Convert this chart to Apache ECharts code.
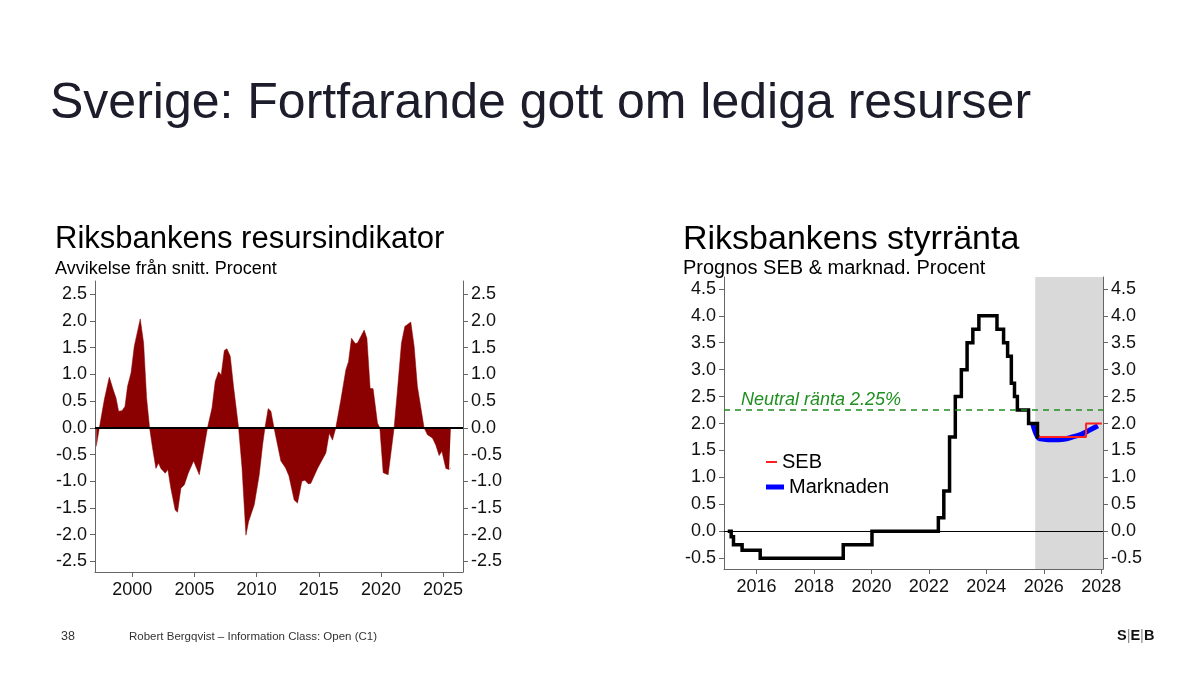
<!DOCTYPE html>
<html>
<head>
<meta charset="utf-8">
<title>Sverige: Fortfarande gott om lediga resurser</title>
<script src="https://cdn.jsdelivr.net/npm/echarts@6.0.0/dist/echarts.min.js"></script>
<style>
html,body{margin:0;padding:0;background:#fff;}
#main{width:1200px;height:675px;}
</style>
</head>
<body>
<div id="main"></div>
<script>
// Resursindikator - avvikelse från snitt, procent
var resYears = [1997.1, 1997.35, 1997.75, 1998.15, 1998.47, 1998.69, 1998.9, 1999.17, 1999.41, 1999.62, 1999.9,
	2000.16, 2000.64, 2000.91, 2001.15, 2001.39, 2001.63, 2001.9, 2002.11, 2002.3, 2002.65, 2002.86,
	2003.1, 2003.45, 2003.64, 2003.91, 2004.18, 2004.5, 2004.93, 2005.39, 2005.65, 2006.05, 2006.41,
	2006.67, 2006.94, 2007.15, 2007.4, 2007.61, 2007.88, 2008.14, 2008.55, 2008.82, 2009.14, 2009.35,
	2009.81, 2010.21, 2010.48, 2010.67, 2010.93, 2011.15, 2011.4, 2011.95, 2012.33, 2012.6, 2013.02, 2013.29,
	2013.64, 2013.88, 2014.17, 2014.36, 2014.9, 2015.57, 2015.84, 2016.1, 2016.37, 2016.78, 2017.18,
	2017.39, 2017.63, 2017.93, 2018.11, 2018.65, 2018.87, 2019.13, 2019.37, 2019.72, 2019.91, 2020.18,
	2020.58, 2021.06, 2021.33, 2021.65, 2021.92, 2022.4, 2022.67, 2022.93, 2023.47, 2023.74, 2024.14,
	2024.41, 2024.68, 2024.9, 2025.22, 2025.48, 2025.62];
var resValues = [-0.35, 0.0, 0.53, 0.95, 0.71, 0.56, 0.31, 0.32, 0.40, 0.78, 1.03,
	1.53, 2.04, 1.59, 0.56, 0.0, -0.38, -0.76, -0.66, -0.76, -0.85, -0.78,
	-1.13, -1.54, -1.58, -1.13, -1.07, -0.85, -0.62, -0.88, -0.54, 0.0, 0.37,
	0.87, 1.05, 0.99, 1.45, 1.48, 1.34, 0.78, 0.0, -0.73, -2.01, -1.76,
	-1.44, -0.88, -0.32, 0.0, 0.36, 0.31, 0.0, -0.62, -0.75, -0.9, -1.35, -1.41,
	-1.0, -0.98, -1.05, -1.04, -0.76, -0.47, -0.1, -0.23, 0.0, 0.53, 1.09,
	1.24, 1.68, 1.58, 1.59, 1.83, 1.68, 0.74, 0.73, 0.09, 0.0, -0.84,
	-0.88, 0.0, 0.71, 1.59, 1.9, 1.98, 1.53, 0.78, 0.0, -0.13, -0.19,
	-0.32, -0.52, -0.44, -0.76, -0.78, -0.75];

// Styrränta - datum för beslut och nivå
var rateDates = [2015.0, 2015.12, 2015.2, 2015.5, 2016.13, 2019.02, 2020.02, 2022.33, 2022.52, 2022.72,
	2022.92, 2023.13, 2023.33, 2023.53, 2023.74, 2024.37, 2024.6, 2024.74, 2024.87, 2024.98,
	2025.08, 2025.47, 2025.78, 2025.82];
var rateValues = [0, -0.10, -0.25, -0.35, -0.50, -0.25, 0, 0.25, 0.75, 1.75,
	2.5, 3.0, 3.5, 3.75, 4.0, 3.75, 3.5, 3.25, 2.75, 2.5,
	2.25, 2.0, 1.75, 1.75];

// Prognos SEB
var sebDates = [2025.8, 2027.47, 2028.02];
var sebValues = [1.75, 2.0, 2.0];

// Marknadens prissättning
var marketDates = [2025.62, 2025.72, 2025.82, 2026.0, 2026.3, 2026.7, 2027.0, 2027.3, 2027.6, 2027.88];
var marketValues = [1.98, 1.82, 1.73, 1.71, 1.70, 1.71, 1.75, 1.80, 1.88, 1.96];

// Tick-etiketter
var resYearTicks = [2000, 2005, 2010, 2015, 2020, 2025];
var resValueTicks = [-2.5, -2.0, -1.5, -1.0, -0.5, 0.0, 0.5, 1.0, 1.5, 2.0, 2.5];
var rateYearTicks = [2016, 2018, 2020, 2022, 2024, 2026, 2028];
var rateValueTicks = [-0.5, 0.0, 0.5, 1.0, 1.5, 2.0, 2.5, 3.0, 3.5, 4.0, 4.5];

var neutralRate = 2.25;
var forecastStart = 2025.7;

var FONT = '"Liberation Sans", Arial, sans-serif';
var AXIS_COLOR = '#666';

function pairs(xs, ys) {
	return xs.map(function (x, i) { return [x, ys[i]]; });
}

function yearFmt(v) { return String(Math.round(v)); }
function pctFmt(v) { return v.toFixed(1); }

// gemensam axel-inställning
function axis(opt) {
	return {
		type: 'value',
		gridIndex: opt.grid,
		min: opt.min,
		max: opt.max,
		position: opt.position,
		splitLine: { show: false },
		axisLine: { show: true, onZero: false, lineStyle: { color: AXIS_COLOR, width: 1 } },
		axisTick: { show: true, length: 5, lineStyle: { color: AXIS_COLOR }, customValues: opt.ticks },
		axisLabel: {
			customValues: opt.ticks,
			color: '#111',
			fontSize: 18,
			fontFamily: FONT,
			margin: opt.margin || 8,
			formatter: opt.fmt
		}
	};
}

function titleText(text, left, top, size, color) {
	return { text: text, left: left, top: top, padding: 0,
		textStyle: { fontSize: size, fontWeight: 'normal', color: color || '#000', fontFamily: FONT, lineHeight: size } };
}

var chart = echarts.init(document.getElementById('main'), null, { renderer: 'canvas' });

var option = {
	backgroundColor: '#fff',
	animation: false,
	title: [
		titleText('Sverige: Fortfarande gott om lediga resurser', 50, 79, 50, '#1c1c2b'),
		titleText('Riksbankens resursindikator', 55, 224, 31),
		titleText('Avvikelse från snitt. Procent', 55, 260, 18),
		titleText('Riksbankens styrränta', 683, 223, 34),
		titleText('Prognos SEB & marknad. Procent', 683, 258, 20)
	],
	legend: [
		{ data: ['SEB'], left: 766, top: 452, padding: 0, icon: 'rect', itemWidth: 11, itemHeight: 2,
			selectedMode: false, textStyle: { fontSize: 20, fontFamily: FONT, color: '#000', lineHeight: 20 } },
		{ data: ['Marknaden'], left: 766, top: 477, padding: 0, icon: 'rect', itemWidth: 18, itemHeight: 5,
			selectedMode: false, textStyle: { fontSize: 20, fontFamily: FONT, color: '#000', lineHeight: 20 } }
	],
	grid: [
		{ left: 95, top: 281, width: 368, height: 291 },
		{ left: 724, top: 277, width: 379, height: 292 }
	],
	xAxis: [
		axis({ grid: 0, min: 1997.0, max: 2026.6, position: 'bottom', ticks: resYearTicks, margin: 9, fmt: yearFmt }),
		axis({ grid: 1, min: 2014.87, max: 2028.06, position: 'bottom', ticks: rateYearTicks, margin: 9, fmt: yearFmt })
	],
	yAxis: [
		axis({ grid: 0, min: -2.7, max: 2.75, position: 'left', ticks: resValueTicks, fmt: pctFmt }),
		axis({ grid: 0, min: -2.7, max: 2.75, position: 'right', ticks: resValueTicks, fmt: pctFmt }),
		axis({ grid: 1, min: -0.7, max: 4.72, position: 'left', ticks: rateValueTicks, fmt: pctFmt }),
		axis({ grid: 1, min: -0.7, max: 4.72, position: 'right', ticks: rateValueTicks, fmt: pctFmt })
	],
	series: [
		{
			name: 'Resursindikator',
			type: 'line',
			xAxisIndex: 0,
			yAxisIndex: 0,
			data: pairs(resYears, resValues),
			showSymbol: false,
			lineStyle: { width: 0.5, color: '#8b0000' },
			areaStyle: { color: '#8b0000', opacity: 1, origin: 0 },
			z: 2,
			markLine: {
				silent: true,
				symbol: ['none', 'none'],
				label: { show: false },
				lineStyle: { color: '#000', width: 2, type: 'solid' },
				data: [{ yAxis: 0 }]
			}
		},
		{
			name: 'Marknaden',
			type: 'line',
			xAxisIndex: 1,
			yAxisIndex: 2,
			data: pairs(marketDates, marketValues),
			smooth: 0.4,
			showSymbol: false,
			color: '#0000ff',
			lineStyle: { width: 5, color: '#0000ff' },
			z: 2,
			markArea: {
				silent: true,
				itemStyle: { color: '#d9d9d9' },
				data: [[{ xAxis: forecastStart }, { xAxis: 2028.06 }]]
			}
		},
		{
			name: 'SEB',
			type: 'line',
			xAxisIndex: 1,
			yAxisIndex: 2,
			data: pairs(sebDates, sebValues),
			step: 'end',
			showSymbol: false,
			color: '#ff2020',
			lineStyle: { width: 2, color: '#ff2020' },
			z: 3
		},
		{
			name: 'Styrränta',
			type: 'line',
			xAxisIndex: 1,
			yAxisIndex: 2,
			data: pairs(rateDates, rateValues),
			step: 'end',
			showSymbol: false,
			lineStyle: { width: 3.5, color: '#000', join: 'miter' },
			z: 4,
			markLine: {
				silent: true,
				symbol: ['none', 'none'],
				label: { show: false },
				data: [
					{ yAxis: 0, lineStyle: { color: '#000', width: 1, type: 'solid' } },
					{ yAxis: neutralRate, lineStyle: { color: '#1f8f1f', width: 1.5, type: [6, 5] } }
				]
			}
		}
	],
	graphic: [
		{ type: 'text', x: 741, y: 400, silent: true,
			style: { text: 'Neutral ränta 2.25%', fill: '#1f8f1f', fontSize: 18, fontStyle: 'italic',
				fontFamily: FONT, verticalAlign: 'middle' } },
		{ type: 'text', x: 61, y: 637, silent: true,
			style: { text: '38', fill: '#333', fontSize: 12.5, fontFamily: FONT, verticalAlign: 'middle' } },
		{ type: 'text', x: 129, y: 637, silent: true,
			style: { text: 'Robert Bergqvist – Information Class: Open (C1)', fill: '#333', fontSize: 11.5,
				fontFamily: FONT, verticalAlign: 'middle' } },
		{ type: 'text', x: 1117, y: 636, silent: true,
			style: { text: '{a|S}{b||}{a|E}{b||}{a|B}', verticalAlign: 'middle',
				rich: {
					a: { fontSize: 14.5, fontWeight: 'bold', fontFamily: FONT, fill: '#111' },
					b: { fontSize: 14.5, fontFamily: FONT, fill: '#888' }
				} } }
	]
};

chart.setOption(option);
</script>
</body>
</html>
